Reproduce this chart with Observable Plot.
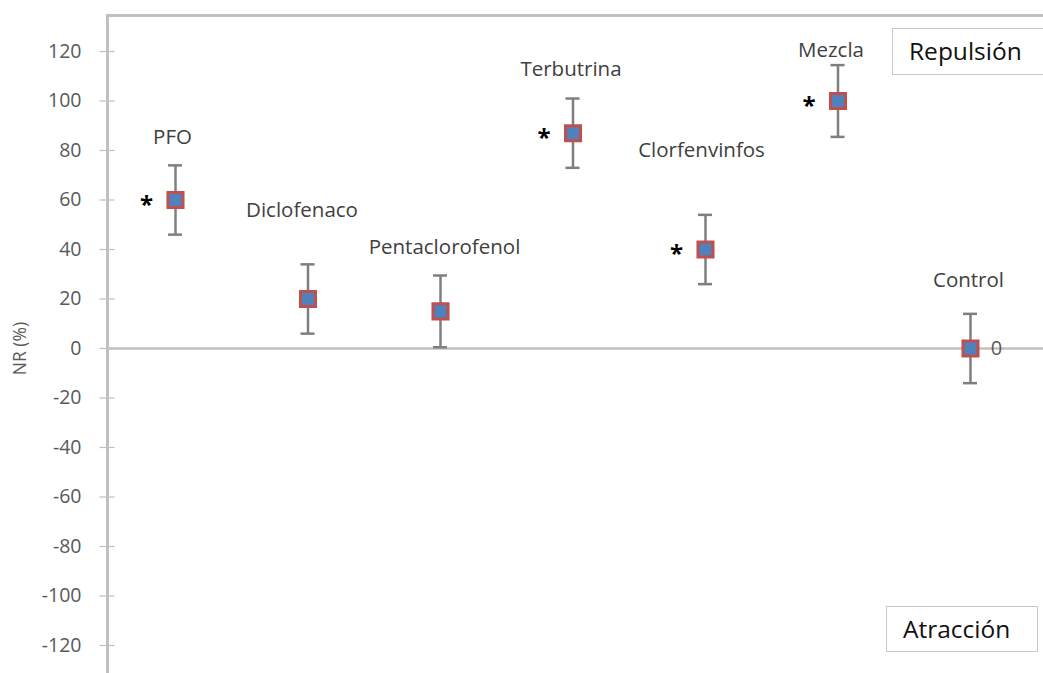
<!DOCTYPE html>
<html>
<head>
<meta charset="utf-8">
<script src="https://cdn.jsdelivr.net/npm/d3@7"></script>
<script src="https://cdn.jsdelivr.net/npm/@observablehq/plot@0.6"></script>
<style>
  html, body { margin: 0; padding: 0; background: #fff; }
  #wrap { position: relative; width: 1043px; height: 673px; overflow: hidden; font-family: "Open Sans", Lato, sans-serif; }
  .box { position: absolute; border: 1.5px solid #c8c8c8; background: #fff; font-size: 24.5px; color: #111; box-sizing: border-box; padding-left: 16px; line-height: 44px; }
</style>
</head>
<body>
<div id="wrap"></div>
<script>
const categories = ["PFO", "Diclofenaco", "Pentaclorofenol", "Terbutrina", "Clorfenvinfos", "Mezcla", "Control"];
const nr = [60, 20, 15, 87, 40, 100, 0];
const err = [14, 14, 14.5, 14, 14, 14.5, 14];
const significant = [true, false, false, true, true, true, false];
const yTicks = [-120, -100, -80, -60, -40, -20, 0, 20, 40, 60, 80, 100, 120];

const data = categories.map((c, i) => ({
  cat: c, i: i + 1, v: nr[i], e: err[i], sig: significant[i]
}));

// label pixel offsets (annotation placement)
const labelDx = [-3, -6, 4, -2, -4, -7, -2];
const labelDy = [-28, -54, -28, -29, -64, -15, -33];

const gray = "#7f7f7f";
const axisGray = "#c0c0c0";
const textGray = "#595959";
const font = "'Open Sans', Lato, sans-serif";

const chart = Plot.plot({
  width: 1043,
  height: 673,
  marginLeft: 107,
  marginRight: 0,
  marginTop: 15,
  marginBottom: 0,
  style: { fontFamily: font, background: "#fff" },
  x: { type: "linear", domain: [1, 7], range: [175, 970], axis: null },
  y: { domain: [-120, 120], range: [645, 51], axis: null },
  marks: [
    Plot.ruleY([0], { stroke: axisGray, strokeWidth: 2.5 }),
    Plot.frame({ anchor: "top", stroke: axisGray, strokeWidth: 3 }),
    Plot.frame({ anchor: "left", stroke: axisGray, strokeWidth: 3 }),
    Plot.axisY({ ticks: yTicks, tickSize: 15, dx: 7.5, tickFormat: () => "", stroke: axisGray, strokeWidth: 1.2, label: null }),
    Plot.text(yTicks, { y: d => d, frameAnchor: "left", textAnchor: "end", dx: -26, text: d => String(d), fontSize: 19.5, fill: textGray }),
    Plot.text([0], { y: d => d, frameAnchor: "left", textAnchor: "middle", dx: -87, rotate: -90, text: () => "NR (%)", fontSize: 17.5, fill: textGray }),
    Plot.ruleX(data, { x: "i", y1: d => d.v - d.e, y2: d => d.v + d.e, stroke: gray, strokeWidth: 2.5 }),
    Plot.ruleY(data, { x1: d => d.i - 0.053, x2: d => d.i + 0.053, y: d => d.v + d.e, stroke: gray, strokeWidth: 2.5 }),
    Plot.ruleY(data, { x1: d => d.i - 0.053, x2: d => d.i + 0.053, y: d => d.v - d.e, stroke: gray, strokeWidth: 2.5 }),
    Plot.dot(data, { x: "i", y: "v", symbol: "square", r: 8.5, fill: "#4f81bd", stroke: "#c0504d", strokeWidth: 3 }),
    Plot.text(data.filter(d => d.sig), { x: "i", y: "v", text: () => "*", dx: -29, dy: 5, fontSize: 24, fontWeight: "bold", fill: "#000" }),
    ...data.map((d, k) => Plot.text([d], { x: "i", y: x => x.v + x.e, text: "cat", dx: labelDx[k], dy: labelDy[k], fontSize: 20.5, fill: "#404040" })),
    Plot.text(data.filter(d => d.cat === "Control"), { x: "i", y: "v", text: d => String(d.v), dx: 26, fontSize: 20, fill: textGray })
  ]
});

const wrap = document.getElementById("wrap");
wrap.appendChild(chart);
const rep = document.createElement("div");
rep.className = "box";
rep.style.cssText = "left:892px; top:28px; width:160px; height:47px;";
rep.textContent = "Repulsión";
wrap.appendChild(rep);
const atr = document.createElement("div");
atr.className = "box";
atr.style.cssText = "left:886px; top:606px; width:152px; height:46px;";
atr.textContent = "Atracción";
wrap.appendChild(atr);
</script>
</body>
</html>
